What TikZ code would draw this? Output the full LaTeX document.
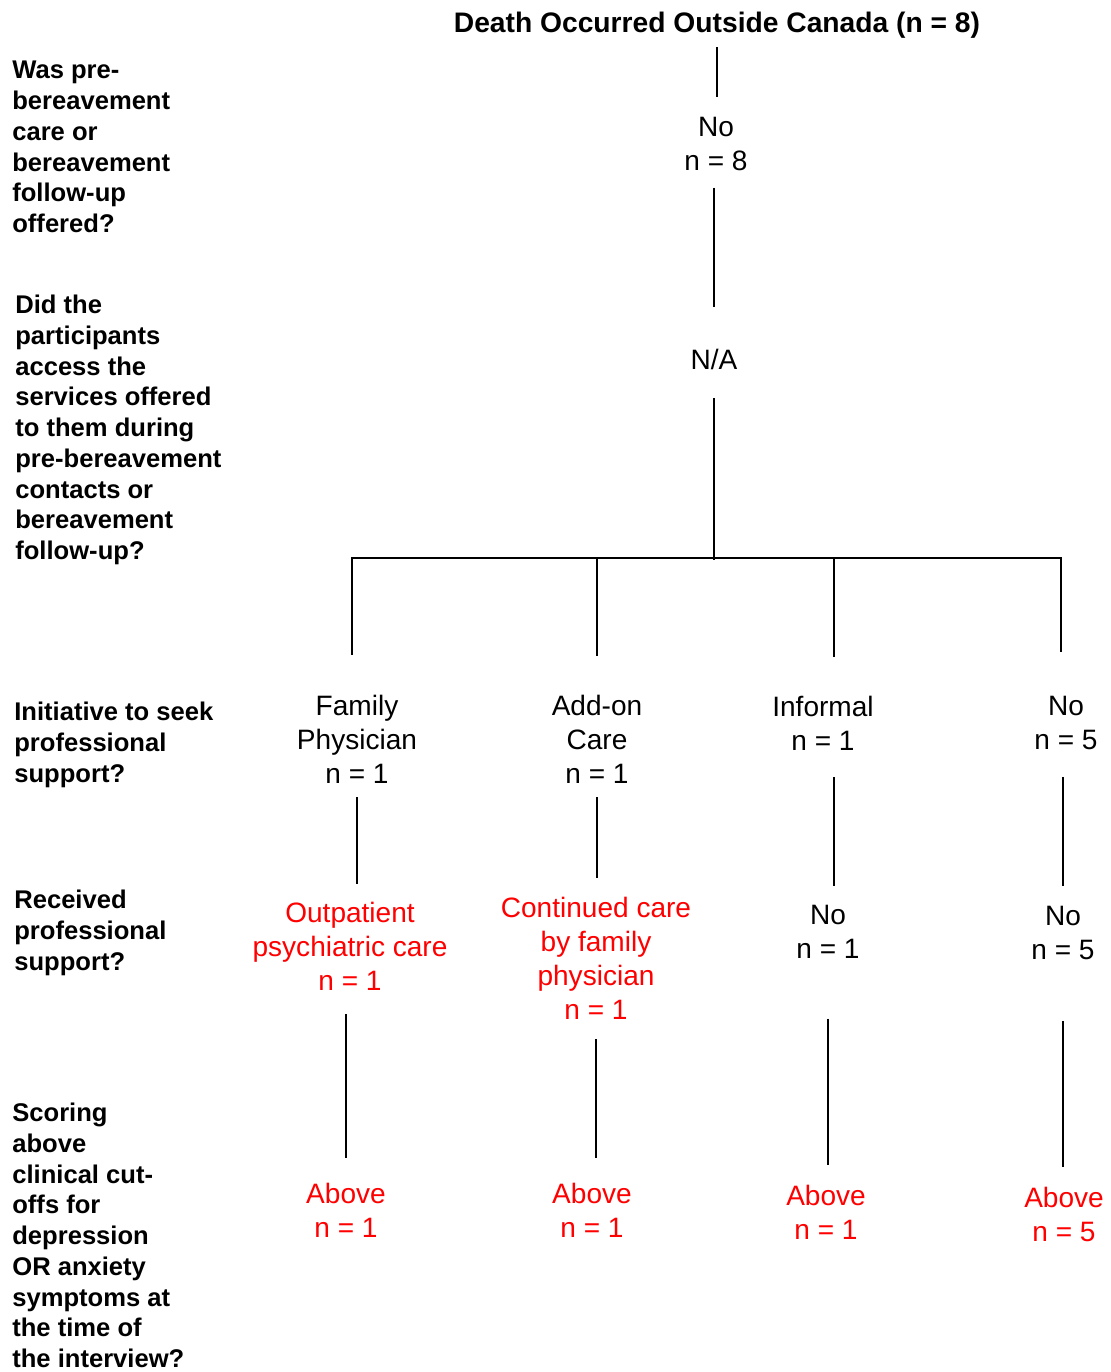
\documentclass[tikz,border=0pt]{standalone}
\usepackage{fontspec}
\setmainfont{Liberation Sans}
\usetikzlibrary{calc}
\tikzset{
  lbl/.style={font=\fontsize{15.9}{19.3}\selectfont, align=center, inner sep=0pt, outer sep=0pt},
  hit/.style={lbl, text=red},
  quest/.style={font=\fontsize{14.5}{17.4}\selectfont\bfseries, align=left, anchor=north west, inner sep=0pt},
  link/.style={line width=1.6pt}
}
\begin{document}
\begin{tikzpicture}[x=0.5669pt, y=-0.5669pt]
\useasboundingbox (0,0) rectangle (1110,1372);
% questions on the left
\node[quest] (q1) at (12,61) {Was pre-\\bereavement\\care or\\bereavement\\follow-up\\offered?};
\node[quest] (q2) at (15,295) {Did the\\participants\\access the\\services offered\\to them during\\pre-bereavement\\contacts or\\bereavement\\follow-up?};
\node[quest] (q3) at (14,702) {Initiative to seek\\professional\\support?};
\node[quest] (q4) at (14,890) {Received\\professional\\support?};
\node[quest] (q5) at (12,1103) {Scoring\\above\\clinical cut-\\offs for\\depression\\OR anxiety\\symptoms at\\the time of\\the interview?};
% tree
\node[lbl, font=\fontsize{16.0}{19.3}\selectfont\bfseries] (top) at (717,25) {Death Occurred Outside Canada (n = 8)};
\node[lbl] (no8) at (716,144) {No\\n = 8};
\node[lbl] (na) at (714,359) {N/A};
\coordinate (b1) at (352,558);
\coordinate (b2) at (597,558);
\coordinate (b3) at (834,558);
\coordinate (b4) at (1061,558);
\node[lbl] (fp) at (357,739) {Family\\Physician\\n = 1};
\node[lbl] (ac) at (597,739) {Add-on\\Care\\n = 1};
\node[lbl] (inf) at (823,723) {Informal\\n = 1};
\node[lbl] (no5a) at (1066,723) {No\\n = 5};
\node[hit] (op) at (350,946) {Outpatient\\psychiatric care\\n = 1};
\node[hit] (cc) at (596,958) {Continued care\\by family\\physician\\n = 1};
\node[lbl] (no1) at (828,932) {No\\n = 1};
\node[lbl] (no5b) at (1063,933) {No\\n = 5};
\node[hit] (ab1) at (346,1210) {Above\\n = 1};
\node[hit] (ab2) at (592,1210) {Above\\n = 1};
\node[hit] (ab3) at (826,1212) {Above\\n = 1};
\node[hit] (ab4) at (1064,1214) {Above\\n = 5};
% connectors
\draw[link, shorten <=5.1pt, shorten >=11.3pt] (top.south) -- (top.south |- no8.north);
\draw[link, shorten <=9.6pt, shorten >=23.8pt] (na.north |- no8.south) -- (na.north);
\draw[link, shorten <=16.4pt] (na.south) -- (714,560);
\draw[link, shorten <=22.7pt, shorten >=24.9pt] (b1 |- fp.north) -- (b1) -- (b4) -- (b4 |- no5a.north);
\draw[link, shorten >=22.1pt] (b2) -- (b2 |- ac.north);
\draw[link, shorten >=22.1pt] (b3) -- (b3 |- inf.north);
\draw[link, shorten <=7.9pt, shorten >=10.2pt] (fp.south) -- (fp.south |- op.north);
\draw[link, shorten <=7.9pt, shorten >=10.8pt] (ac.south) -- (ac.south |- cc.north);
\draw[link, shorten <=15.3pt, shorten >=10.8pt] (inf.south -| b3) -- (no1.north -| b3);
\draw[link, shorten <=15.3pt, shorten >=11.3pt] (no5b.north |- no5a.south) -- (no5b.north);
\draw[link, shorten <=13.6pt, shorten >=14.2pt] (ab1.north |- op.south) -- (ab1.north);
\draw[link, shorten <=11.3pt, shorten >=14.2pt] (cc.south) -- (cc.south |- ab2.north);
\draw[link, shorten <=34pt, shorten >=11.3pt] (no1.south) -- (no1.south |- ab3.north);
\draw[link, shorten <=34.6pt, shorten >=11.3pt] (no5b.south) -- (no5b.south |- ab4.north);
\end{tikzpicture}
\end{document}
